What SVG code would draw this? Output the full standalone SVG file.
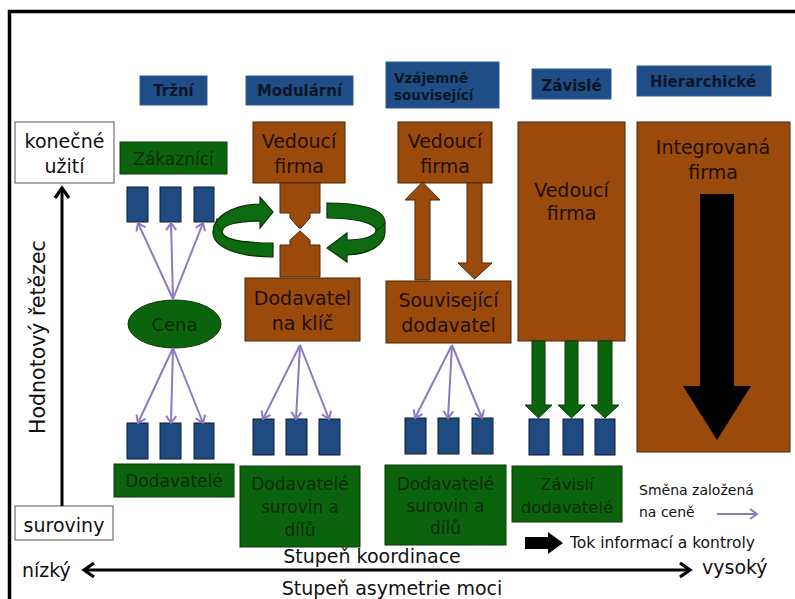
<svg xmlns="http://www.w3.org/2000/svg" width="795" height="599" viewBox="0 0 795 599">
<defs>
<style>
text{font-family:"DejaVu Sans",Verdana,sans-serif}
.hdr{fill:#1f4e87;stroke:#2d5c96;stroke-width:1}
.ht{font-weight:bold;font-size:15px;fill:#0b1526;text-anchor:middle}
.ht2{font-weight:bold;font-size:13.5px;fill:#0b1526}
.br{fill:#9a4a0a;stroke:#4a2608;stroke-width:1}
.gr{fill:#0b640b;stroke:#063806;stroke-width:1}
.sq{fill:#1f4b80;stroke:#0b1a33;stroke-width:1}
.wb{fill:#fff;stroke:#555;stroke-width:1}
.bt{font-size:19px;fill:#1e0e02;text-anchor:middle}
.gt{font-size:17px;fill:#0a2a0a;text-anchor:middle}
.lt{font-size:19px;fill:#111;text-anchor:middle}
.pa{stroke:#8e78bf;stroke-width:2;fill:none;marker-end:url(#pm)}
.ax{stroke:#000;stroke-width:3;fill:none}
.ga{fill:#0b640b;stroke:#063806;stroke-width:1}
.ring{fill:#0e6a10;stroke:#053505;stroke-width:1.2}
</style>
<marker id="pm" markerUnits="userSpaceOnUse" markerWidth="14" markerHeight="14" refX="10" refY="7" orient="auto"><path d="M3,2 L10,7 L3,12" fill="none" stroke="#8e78bf" stroke-width="2"/></marker>
<marker id="bm" markerUnits="userSpaceOnUse" markerWidth="16" markerHeight="18" refX="13" refY="9" orient="auto-start-reverse"><path d="M3,2 L13,9 L3,16" fill="none" stroke="#000" stroke-width="3.2"/></marker>
</defs>
<rect width="795" height="599" fill="#fff"/>
<path d="M9.5,599 V11.5 H795" fill="none" stroke="#000" stroke-width="3.5"/>

<g id="headers">
<g id="h-trzni"><rect class="hdr" x="140" y="76" width="67" height="29"/><text class="ht" x="173.5" y="96">Tržní</text></g>
<g id="h-modularni"><rect class="hdr" x="246" y="76" width="107" height="29"/><text class="ht" x="299.5" y="96">Modulární</text></g>
<g id="h-vzajemne"><rect class="hdr" x="386" y="62" width="113" height="46"/><text class="ht2" x="394" y="83">Vzájemně</text><text class="ht2" x="394" y="100">související</text></g>
<g id="h-zavisle"><rect class="hdr" x="532" y="69" width="79" height="30"/><text class="ht" x="571.5" y="91">Závislé</text></g>
<g id="h-hierarchicke"><rect class="hdr" x="637" y="66" width="134" height="30"/><text class="ht" x="703" y="87">Hierarchické</text></g>
</g>

<g id="axis-left">
<g id="konecne"><rect class="wb" x="15" y="122" width="99" height="61"/><text class="lt" x="64.5" y="148">konečné</text><text class="lt" x="64.5" y="173">užití</text></g>
<g id="suroviny"><rect class="wb" x="15" y="506" width="98" height="34"/><text class="lt" x="64" y="532">suroviny</text></g>
<text class="lt" style="font-size:20.5px" transform="translate(45,337) rotate(-90)">Hodnotový řetězec</text>
</g>

<g id="trzni">
<g id="zakaznici"><rect class="gr" x="120" y="142" width="107" height="32"/><text class="gt" x="173.5" y="165">Zákazníci</text></g>
<rect class="sq" x="127" y="187" width="21" height="35"/>
<rect class="sq" x="160" y="187" width="21" height="35"/>
<rect class="sq" x="194" y="187" width="20" height="35"/>
<g id="cena"><ellipse cx="174.5" cy="324" rx="46.5" ry="24" fill="#0b640b" stroke="#063806"/><text class="gt" style="font-size:18px" x="174.5" y="331">Cena</text></g>
<rect class="sq" x="127" y="423" width="21" height="36"/>
<rect class="sq" x="160" y="423" width="21" height="36"/>
<rect class="sq" x="194" y="423" width="20" height="36"/>
<g id="dodavatele1"><rect class="gr" x="114" y="464" width="120" height="33"/><text class="gt" x="174" y="487">Dodavatelé</text></g>
</g>

<g id="modularni">
<g id="vedouci1"><rect class="br" x="253" y="122" width="92" height="61"/><text class="bt" x="299" y="148">Vedoucí</text><text class="bt" x="299" y="173">firma</text></g>
<polygon class="br" points="280,183 320,183 320,213 310,213 310,218 301,228 299,228 290,218 290,213 280,213"/>
<polygon class="br" points="300,231 310,240 310,245 320,245 320,277 280,277 280,245 290,245 290,240"/>
<path class="ring" d="M273,243 V257 C245,257 214,250 213,233 C212,217 232,205 260,204 V197 L273,212 L260,228 V221 C240,221 222,224 222,232 C224,240 245,243 273,243 Z"/>
<path d="M222,232 C218,228 216,224 217,218" fill="none" stroke="#053505" stroke-width="1"/>
<path class="ring" d="M327,203 C358,203 384,208 385,222 V232 C385,246 368,254 347,255 V262 L327,248 L347,233 V240 C364,240 376,236 376,230 C374,222 352,218 327,218 Z"/>
<path d="M376,230 C380,228 384,226 385,222" fill="none" stroke="#053505" stroke-width="1"/>
<g id="nakllic"><rect class="br" x="245" y="278" width="115" height="63"/><text class="bt" x="302.5" y="305">Dodavatel</text><text class="bt" x="302.5" y="330">na klíč</text></g>
<rect class="sq" x="253" y="419" width="21" height="36"/>
<rect class="sq" x="286" y="419" width="21" height="36"/>
<rect class="sq" x="319" y="419" width="21" height="36"/>
<g id="dodavatele2"><rect class="gr" x="240" y="466" width="120" height="81"/><text class="gt" x="300" y="490">Dodavatelé</text><text class="gt" x="300" y="513">surovin a</text><text class="gt" x="300" y="536">dílů</text></g>
</g>

<g id="vzajemne">
<g id="vedouci2"><rect class="br" x="398" y="122" width="94" height="61"/><text class="bt" x="445" y="148">Vedoucí</text><text class="bt" x="445" y="173">firma</text></g>
<polygon class="br" points="415,280 415,200 405,200 422.5,182 440,200 430,200 430,280"/>
<polygon class="br" points="467,183 482,183 482,263 492,263 474.5,279 458,263 467,263"/>
<g id="souvisejici"><rect class="br" x="386" y="281" width="125" height="62"/><text class="bt" x="448.5" y="307">Související</text><text class="bt" x="448.5" y="332">dodavatel</text></g>
<rect class="sq" x="405" y="418" width="21" height="36"/>
<rect class="sq" x="438" y="418" width="21" height="36"/>
<rect class="sq" x="472" y="418" width="21" height="36"/>
<g id="dodavatele3"><rect class="gr" x="385" y="465" width="121" height="80"/><text class="gt" x="445.5" y="490">Dodavatelé</text><text class="gt" x="445.5" y="512">surovin a</text><text class="gt" x="445.5" y="534">dílů</text></g>
</g>

<g id="zavisle">
<g id="vedouci3"><rect class="br" x="518" y="122" width="107" height="219"/><text class="bt" x="571.5" y="197">Vedoucí</text><text class="bt" x="571.5" y="220">firma</text></g>
<polygon class="ga" points="532,341 545,341 545,405 552,405 538.5,418 525,405 532,405"/>
<polygon class="ga" points="565,341 578,341 578,405 585,405 571.5,418 558,405 565,405"/>
<polygon class="ga" points="598,341 612,341 612,405 619,405 605,418 591,405 598,405"/>
<rect class="sq" x="529" y="419" width="20" height="36"/>
<rect class="sq" x="563" y="419" width="20" height="36"/>
<rect class="sq" x="595" y="419" width="20" height="36"/>
<g id="zavisli"><rect class="gr" x="512" y="466" width="110" height="56"/><text class="gt" style="font-size:16.5px" x="567" y="490">Závislí</text><text class="gt" style="font-size:16.5px" x="567" y="513">dodavatelé</text></g>
</g>

<g id="hierarchicke">
<g id="integrovana"><rect class="br" x="637" y="122" width="153" height="330"/><text class="bt" x="713" y="154">Integrovaná</text><text class="bt" x="713" y="179">firma</text></g>
<polygon points="700,194 734,194 734,386 751,386 717,440 683,386 700,386" fill="#000"/>
</g>

<g id="connectors">
<line class="pa" x1="173" y1="299" x2="138" y2="223"/>
<line class="pa" x1="173" y1="299" x2="171" y2="223"/>
<line class="pa" x1="173" y1="299" x2="203" y2="223"/>
<line class="pa" x1="173" y1="348" x2="138" y2="423"/>
<line class="pa" x1="173" y1="348" x2="171" y2="423"/>
<line class="pa" x1="173" y1="348" x2="203" y2="423"/>
<line class="pa" x1="300" y1="345" x2="263" y2="419"/>
<line class="pa" x1="300" y1="345" x2="296" y2="419"/>
<line class="pa" x1="300" y1="345" x2="329" y2="419"/>
<line class="pa" x1="452" y1="345" x2="415" y2="418"/>
<line class="pa" x1="452" y1="345" x2="448" y2="418"/>
<line class="pa" x1="452" y1="345" x2="482" y2="418"/>
<line class="ax" x1="62" y1="506" x2="62" y2="188" marker-end="url(#bm)"/>
<line class="ax" x1="84" y1="570" x2="690" y2="570" marker-start="url(#bm)" marker-end="url(#bm)"/>
</g>

<g id="legend">
<text font-size="14" fill="#111" x="639" y="495">Směna založená</text>
<text font-size="14" fill="#111" x="639" y="517">na ceně</text>
<line class="pa" x1="717" y1="514" x2="757" y2="514"/>
<polygon points="525,537 548,537 548,532 563,543 548,554 548,549 525,549" fill="#000"/>
<text font-size="15.5" fill="#111" x="570" y="548">Tok informací a kontroly</text>
</g>

<g id="axis-bottom">
<text class="lt" x="372" y="563">Stupeň koordinace</text>
<text class="lt" x="392" y="595">Stupeň asymetrie moci</text>
<text font-size="19" fill="#111" x="22" y="577">nízký</text>
<text font-size="19" fill="#111" x="702" y="574">vysoký</text>
</g>
</svg>
